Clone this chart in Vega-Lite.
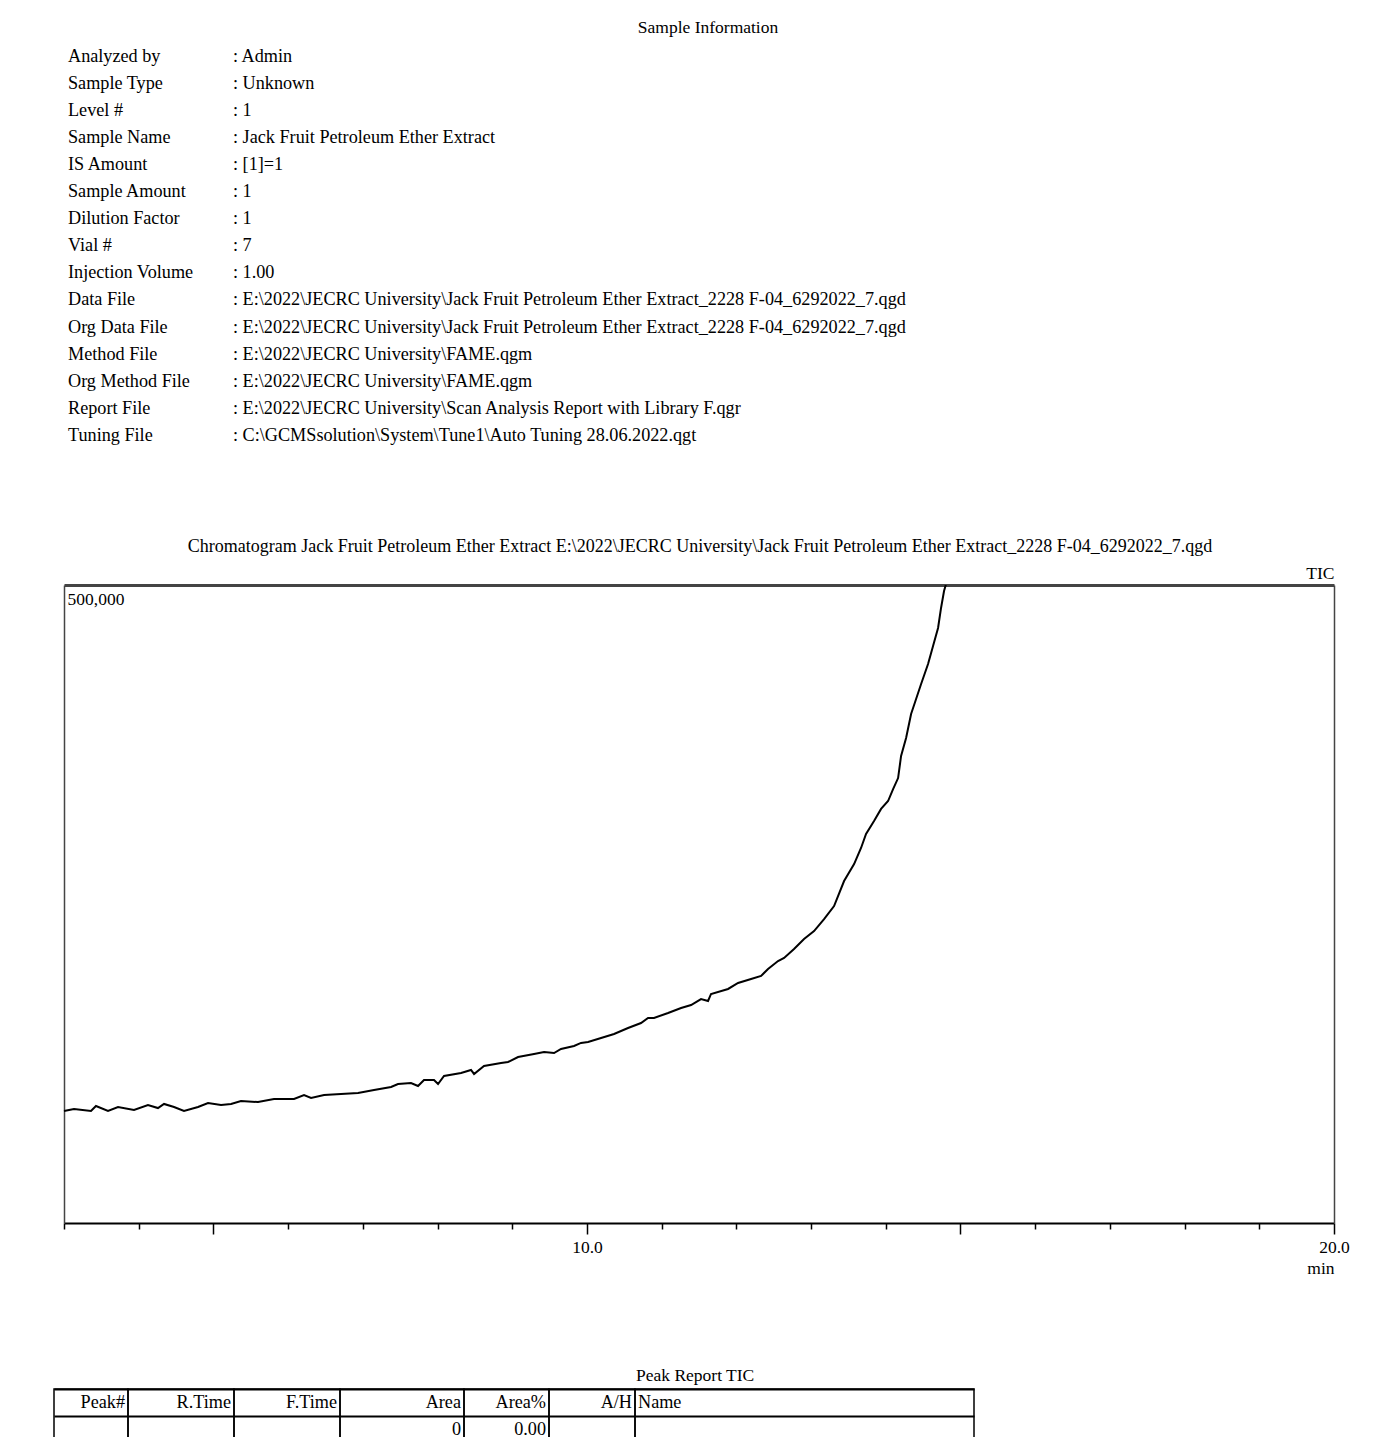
{
"$schema": "https://vega.github.io/schema/vega-lite/v6.json",
"padding": {"left": 53, "top": 18, "right": 0, "bottom": 0},
"background": "white",
"bounds": "flush",
"spacing": 166,
"config": {
  "font": "Liberation Serif",
  "view": {"stroke": "#444", "strokeWidth": 1.5},
  "title": {"font": "Liberation Serif", "fontSize": 17.5, "fontWeight": "normal", "color": "black"},
  "axis": {"labelFont": "Liberation Serif", "titleFont": "Liberation Serif", "labelColor": "black", "titleColor": "black", "titleFontWeight": "normal", "labelFontSize": 17.5, "titleFontSize": 17.5, "grid": false},
  "text": {"font": "Liberation Serif", "fontSize": 18.2, "color": "black"}
},
"datasets": {
  "info": [
    {"Field": "Analyzed by", "Value": ": Admin"},
    {"Field": "Sample Type", "Value": ": Unknown"},
    {"Field": "Level #", "Value": ": 1"},
    {"Field": "Sample Name", "Value": ": Jack Fruit Petroleum Ether Extract"},
    {"Field": "IS Amount", "Value": ": [1]=1"},
    {"Field": "Sample Amount", "Value": ": 1"},
    {"Field": "Dilution Factor", "Value": ": 1"},
    {"Field": "Vial #", "Value": ": 7"},
    {"Field": "Injection Volume", "Value": ": 1.00"},
    {"Field": "Data File", "Value": ": E:\\2022\\JECRC University\\Jack Fruit Petroleum Ether Extract_2228 F-04_6292022_7.qgd"},
    {"Field": "Org Data File", "Value": ": E:\\2022\\JECRC University\\Jack Fruit Petroleum Ether Extract_2228 F-04_6292022_7.qgd"},
    {"Field": "Method File", "Value": ": E:\\2022\\JECRC University\\FAME.qgm"},
    {"Field": "Org Method File", "Value": ": E:\\2022\\JECRC University\\FAME.qgm"},
    {"Field": "Report File", "Value": ": E:\\2022\\JECRC University\\Scan Analysis Report with Library F.qgr"},
    {"Field": "Tuning File", "Value": ": C:\\GCMSsolution\\System\\Tune1\\Auto Tuning 28.06.2022.qgt"}
  ],
  "tic": [
    {"t": 3.000, "tic": 87800}, {"t": 3.134, "tic": 89300}, {"t": 3.361, "tic": 87800}, {"t": 3.428, "tic": 91700},
    {"t": 3.589, "tic": 87800}, {"t": 3.723, "tic": 90900}, {"t": 3.937, "tic": 88600}, {"t": 4.124, "tic": 92500},
    {"t": 4.258, "tic": 90100}, {"t": 4.339, "tic": 93300}, {"t": 4.473, "tic": 90900}, {"t": 4.606, "tic": 87800},
    {"t": 4.794, "tic": 90900}, {"t": 4.928, "tic": 94000}, {"t": 5.102, "tic": 92500}, {"t": 5.236, "tic": 93300},
    {"t": 5.369, "tic": 95600}, {"t": 5.597, "tic": 94800}, {"t": 5.811, "tic": 97200}, {"t": 6.079, "tic": 97200},
    {"t": 6.213, "tic": 100300}, {"t": 6.307, "tic": 98000}, {"t": 6.481, "tic": 100300}, {"t": 6.708, "tic": 101100},
    {"t": 6.936, "tic": 101900}, {"t": 7.150, "tic": 104200}, {"t": 7.378, "tic": 106600}, {"t": 7.471, "tic": 108900},
    {"t": 7.645, "tic": 109700}, {"t": 7.739, "tic": 107400}, {"t": 7.819, "tic": 112100}, {"t": 7.953, "tic": 112100},
    {"t": 8.007, "tic": 108900}, {"t": 8.087, "tic": 115200}, {"t": 8.315, "tic": 117600}, {"t": 8.448, "tic": 119900},
    {"t": 8.489, "tic": 116800}, {"t": 8.622, "tic": 123000}, {"t": 8.850, "tic": 125400}, {"t": 8.944, "tic": 126200},
    {"t": 9.078, "tic": 130100}, {"t": 9.292, "tic": 132400}, {"t": 9.426, "tic": 134000}, {"t": 9.560, "tic": 133200},
    {"t": 9.653, "tic": 136400}, {"t": 9.827, "tic": 138700}, {"t": 9.921, "tic": 141100}, {"t": 10.015, "tic": 141800},
    {"t": 10.189, "tic": 145000}, {"t": 10.363, "tic": 148100}, {"t": 10.550, "tic": 152800}, {"t": 10.724, "tic": 156700},
    {"t": 10.818, "tic": 160700}, {"t": 10.898, "tic": 160700}, {"t": 11.086, "tic": 164600}, {"t": 11.260, "tic": 168500},
    {"t": 11.394, "tic": 170800}, {"t": 11.527, "tic": 175500}, {"t": 11.621, "tic": 174000}, {"t": 11.661, "tic": 179500},
    {"t": 11.889, "tic": 183400}, {"t": 12.023, "tic": 188100}, {"t": 12.197, "tic": 191200}, {"t": 12.331, "tic": 193600},
    {"t": 12.424, "tic": 199100}, {"t": 12.558, "tic": 205300}, {"t": 12.639, "tic": 207700}, {"t": 12.772, "tic": 214700},
    {"t": 12.906, "tic": 222600}, {"t": 13.040, "tic": 228800}, {"t": 13.174, "tic": 238200}, {"t": 13.308, "tic": 248400},
    {"t": 13.442, "tic": 268000}, {"t": 13.576, "tic": 281300}, {"t": 13.669, "tic": 293900}, {"t": 13.736, "tic": 304900},
    {"t": 13.843, "tic": 315000}, {"t": 13.937, "tic": 324500}, {"t": 14.031, "tic": 330700}, {"t": 14.098, "tic": 340100},
    {"t": 14.165, "tic": 348700}, {"t": 14.205, "tic": 366000}, {"t": 14.272, "tic": 380100}, {"t": 14.339, "tic": 398900},
    {"t": 14.406, "tic": 410700}, {"t": 14.473, "tic": 422400}, {"t": 14.566, "tic": 438100}, {"t": 14.633, "tic": 452200},
    {"t": 14.700, "tic": 466300}, {"t": 14.740, "tic": 482000}, {"t": 14.780, "tic": 495300}, {"t": 14.807, "tic": 500800},
    {"t": 14.847, "tic": 515000}
  ],
  "report": [
    {"row": "header", "peak": "Peak#", "rtime": "R.Time", "ftime": "F.Time", "area": "Area", "areapct": "Area%", "ah": "A/H", "name": "Name"},
    {"row": "data", "peak": "", "rtime": "", "ftime": "", "area": "0", "areapct": "0.00", "ah": "", "name": ""}
  ]
},
"vconcat": [
  {
    "width": 1290, "height": 375.45,
    "title": {"text": "Sample Information", "dx": 9, "offset": 7},
    "data": {"name": "info"},
    "transform": [{"fold": ["Field", "Value"], "as": ["col", "text"]}],
    "mark": {"type": "text", "align": "left", "baseline": "middle"},
    "encoding": {
      "x": {"field": "col", "type": "nominal", "scale": {"type": "point", "range": [14, 179], "padding": 0}, "axis": null},
      "y": {"field": "Field", "type": "nominal", "sort": null, "scale": {"type": "point", "range": [13.55, 392.95], "padding": 0}, "axis": null},
      "text": {"field": "text"}
    },
    "view": {"stroke": null}
  },
  {
    "width": 1280, "height": 638,
    "title": {"text": "Chromatogram Jack Fruit Petroleum Ether Extract E:\\2022\\JECRC University\\Jack Fruit Petroleum Ether Extract_2228 F-04_6292022_7.qgd", "offset": 8, "fontSize": 18, "dx": 6},
    "data": {"name": "tic"},
    "resolve": {"axis": {"x": "independent", "y": "independent"}},
    "view": {"stroke": null},
    "layer": [
      {
        "mark": {"type": "line", "color": "black", "strokeWidth": 2, "clip": true},
        "encoding": {
          "x": {"field": "t", "type": "quantitative",
            "scale": {"domain": [3, 20], "range": [10, 1280], "nice": false, "zero": false},
            "axis": {"orient": "bottom", "values": [3,4,5,6,7,8,9,10,11,12,13,14,15,16,17,18,19,20],
              "tickSize": {"condition": {"test": "datum.value % 5 === 0", "value": 11}, "value": 6},
              "tickColor": "black", "tickWidth": 1.5, "domainColor": "black", "domainWidth": 2,
              "labelExpr": "datum.value === 10 || datum.value === 20 ? format(datum.value, '.1f') : ''",
              "labelPadding": 4, "labelFlush": false, "labelOverlap": false,
              "title": "min", "titleAnchor": "end", "titleAlign": "right", "titlePadding": 4}},
          "y": {"field": "tic", "type": "quantitative",
            "scale": {"domain": [0, 500000], "nice": false},
            "axis": {"orient": "left", "offset": -10, "values": [500000], "format": ",d", "labelAlign": "left", "labelBaseline": "top",
              "labelPadding": -3, "labelOffset": 5, "ticks": false, "tickSize": 0, "domain": true, "domainColor": "#444", "domainWidth": 1.5, "title": null}}
        }
      },
      {
        "mark": {"type": "line", "opacity": 0, "clip": true},
        "encoding": {
          "x": {"field": "t", "type": "quantitative",
            "axis": {"orient": "top", "labels": false, "ticks": false, "domainColor": "#444", "domainWidth": 3,
              "title": "TIC", "titleAnchor": "end", "titleAlign": "right", "titlePadding": 3}},
          "y": {"field": "tic", "type": "quantitative",
            "axis": {"orient": "right", "labels": false, "ticks": false, "domainColor": "#444", "domainWidth": 1.5, "title": null}}
        }
      }
    ]
  },
  {
    "title": {"text": "Peak Report TIC", "offset": 4, "anchor": "start", "frame": "group", "dx": 582},
    "data": {"name": "report"},
    "spacing": 0,
    "bounds": "flush",
    "hconcat": [
      {"width": 74, "height": 54, "mark": {"type": "text", "align": "right", "baseline": "middle", "dx": -3},
       "encoding": {"x": {"value": "width"},
         "y": {"field": "row", "type": "nominal", "sort": ["header", "data"], "bandPosition": 0.5, "scale": {"type": "band", "paddingInner": 0, "paddingOuter": 0},
           "axis": {"title": null, "labels": false, "ticks": false, "domain": false, "grid": true, "gridColor": "black", "gridWidth": 2, "bandPosition": 0}},
         "text": {"field": "peak"}},
       "view": {"stroke": "black", "strokeWidth": 1.5}},
      {"width": 106, "height": 54, "mark": {"type": "text", "align": "right", "baseline": "middle", "dx": -3},
       "encoding": {"x": {"value": "width"},
         "y": {"field": "row", "type": "nominal", "sort": ["header", "data"], "bandPosition": 0.5, "scale": {"type": "band", "paddingInner": 0, "paddingOuter": 0},
           "axis": {"title": null, "labels": false, "ticks": false, "domain": false, "grid": true, "gridColor": "black", "gridWidth": 2, "bandPosition": 0}},
         "text": {"field": "rtime"}},
       "view": {"stroke": "black", "strokeWidth": 1.5}},
      {"width": 106, "height": 54, "mark": {"type": "text", "align": "right", "baseline": "middle", "dx": -3},
       "encoding": {"x": {"value": "width"},
         "y": {"field": "row", "type": "nominal", "sort": ["header", "data"], "bandPosition": 0.5, "scale": {"type": "band", "paddingInner": 0, "paddingOuter": 0},
           "axis": {"title": null, "labels": false, "ticks": false, "domain": false, "grid": true, "gridColor": "black", "gridWidth": 2, "bandPosition": 0}},
         "text": {"field": "ftime"}},
       "view": {"stroke": "black", "strokeWidth": 1.5}},
      {"width": 124, "height": 54, "mark": {"type": "text", "align": "right", "baseline": "middle", "dx": -3},
       "encoding": {"x": {"value": "width"},
         "y": {"field": "row", "type": "nominal", "sort": ["header", "data"], "bandPosition": 0.5, "scale": {"type": "band", "paddingInner": 0, "paddingOuter": 0},
           "axis": {"title": null, "labels": false, "ticks": false, "domain": false, "grid": true, "gridColor": "black", "gridWidth": 2, "bandPosition": 0}},
         "text": {"field": "area"}},
       "view": {"stroke": "black", "strokeWidth": 1.5}},
      {"width": 85, "height": 54, "mark": {"type": "text", "align": "right", "baseline": "middle", "dx": -3},
       "encoding": {"x": {"value": "width"},
         "y": {"field": "row", "type": "nominal", "sort": ["header", "data"], "bandPosition": 0.5, "scale": {"type": "band", "paddingInner": 0, "paddingOuter": 0},
           "axis": {"title": null, "labels": false, "ticks": false, "domain": false, "grid": true, "gridColor": "black", "gridWidth": 2, "bandPosition": 0}},
         "text": {"field": "areapct"}},
       "view": {"stroke": "black", "strokeWidth": 1.5}},
      {"width": 86, "height": 54, "mark": {"type": "text", "align": "right", "baseline": "middle", "dx": -3},
       "encoding": {"x": {"value": "width"},
         "y": {"field": "row", "type": "nominal", "sort": ["header", "data"], "bandPosition": 0.5, "scale": {"type": "band", "paddingInner": 0, "paddingOuter": 0},
           "axis": {"title": null, "labels": false, "ticks": false, "domain": false, "grid": true, "gridColor": "black", "gridWidth": 2, "bandPosition": 0}},
         "text": {"field": "ah"}},
       "view": {"stroke": "black", "strokeWidth": 1.5}},
      {"width": 339, "height": 54, "mark": {"type": "text", "align": "left", "baseline": "middle", "dx": 3},
       "encoding": {"x": {"value": 0},
         "y": {"field": "row", "type": "nominal", "sort": ["header", "data"], "bandPosition": 0.5, "scale": {"type": "band", "paddingInner": 0, "paddingOuter": 0},
           "axis": {"title": null, "labels": false, "ticks": false, "domain": false, "grid": true, "gridColor": "black", "gridWidth": 2, "bandPosition": 0}},
         "text": {"field": "name"}},
       "view": {"stroke": "black", "strokeWidth": 1.5}}
    ]
  }
]
}
